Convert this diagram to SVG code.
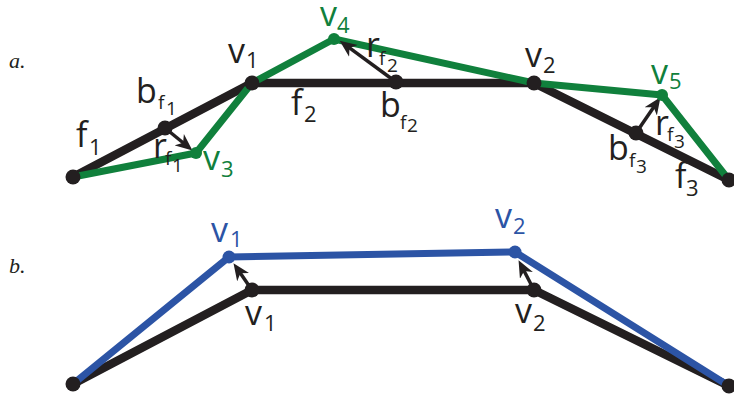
<svg xmlns="http://www.w3.org/2000/svg" width="734" height="397" viewBox="0 0 734 397">
<style>
.bk{fill:none;stroke:#231f20;stroke-width:8.5;stroke-linejoin:round}
.gr{fill:none;stroke:#10803c;stroke-width:7;stroke-linejoin:round}
.bl{fill:none;stroke:#2c54a5;stroke-width:7;stroke-linejoin:round}
.ar{fill:none;stroke:#231f20;stroke-width:3.5}
.dk{fill:#231f20}
.dg{fill:#10803c}
.db{fill:#2c54a5}
text{font-family:"Open Sans","DejaVu Sans",sans-serif}
.m{font-size:34px}
.s{font-size:22px}
.ss{font-size:19px}
.tk{fill:#231f20}
.tg{fill:#10803c}
.tb{fill:#2c54a5}
.it{font-family:"Liberation Serif",serif;font-style:italic;font-size:22px;fill:#231f20}
</style>
<defs>
<marker id="ah" markerUnits="userSpaceOnUse" markerWidth="17" markerHeight="15" viewBox="0 0 14 12" refX="5" refY="6" orient="auto">
<path d="M0,0 L14,6 L0,12 L4,6 Z" fill="#231f20"/>
</marker>
</defs>
<text class="it" x="9" y="68">a.</text>
<text class="it" x="9" y="273">b.</text>
<g id="connectors">
<polyline class="bk" points="73,177 252,83 534,83 729,180"/>
<polyline class="gr" points="73,177 196,153 252,83 334,39 534,83 662,95 729,180"/>
<line class="ar" x1="165" y1="128" x2="184" y2="143.5" marker-end="url(#ah)"/>
<line class="ar" x1="396" y1="82" x2="348.5" y2="47.2" marker-end="url(#ah)"/>
<line class="ar" x1="636" y1="133" x2="654.3" y2="106.3" marker-end="url(#ah)"/>
<polyline class="bk" points="73,384 252,290 534,290 729,386"/>
<polyline class="bl" points="73,384 229,257 515,252 729,386"/>
<line class="ar" x1="252" y1="290" x2="239.7" y2="272.2" marker-end="url(#ah)"/>
<line class="ar" x1="534" y1="290" x2="523.6" y2="270" marker-end="url(#ah)"/>
</g>
<g id="p0"><circle class="dk" cx="73" cy="177" r="7.5"/></g>
<g id="bf1"><circle class="dk" cx="165" cy="128" r="7.5"/>
<text class="tk"><tspan class="m" x="136" y="103">b</tspan><tspan class="ss" x="158" y="109">f</tspan><tspan class="ss" x="166" y="115">1</tspan></text></g>
<g id="f1"><text class="tk"><tspan class="m" x="76" y="147">f</tspan><tspan class="s" x="89" y="155">1</tspan></text></g>
<g id="rf1"><text class="tk"><tspan class="m" x="153" y="158">r</tspan><tspan class="ss" x="165" y="165">f</tspan><tspan class="ss" x="172" y="172">1</tspan></text></g>
<g id="v3"><circle class="dg" cx="196" cy="153" r="6"/>
<text class="tg"><tspan class="m" x="203" y="170">v</tspan><tspan class="s" x="221" y="177">3</tspan></text></g>
<g id="v1"><circle class="dk" cx="252" cy="83" r="7.5"/>
<text class="tk"><tspan class="m" x="228" y="63">v</tspan><tspan class="s" x="246" y="68">1</tspan></text></g>
<g id="v4"><circle class="dg" cx="334" cy="39" r="6"/>
<text class="tg"><tspan class="m" x="320" y="26">v</tspan><tspan class="s" x="337" y="33">4</tspan></text></g>
<g id="f2"><text class="tk"><tspan class="m" x="291" y="115">f</tspan><tspan class="s" x="304" y="122">2</tspan></text></g>
<g id="rf2"><text class="tk"><tspan class="m" x="366" y="57">r</tspan><tspan class="ss" x="379" y="65">f</tspan><tspan class="ss" x="387" y="72">2</tspan></text></g>
<g id="bf2"><circle class="dk" cx="396" cy="82" r="7.5"/>
<text class="tk"><tspan class="m" x="380" y="117">b</tspan><tspan class="ss" x="400" y="129">f</tspan><tspan class="ss" x="407" y="132">2</tspan></text></g>
<g id="v2"><circle class="dk" cx="534" cy="83" r="7.5"/>
<text class="tk"><tspan class="m" x="525" y="67">v</tspan><tspan class="s" x="543" y="73">2</tspan></text></g>
<g id="v5"><circle class="dg" cx="662" cy="95" r="6"/>
<text class="tg"><tspan class="m" x="651" y="84">v</tspan><tspan class="s" x="669" y="89">5</tspan></text></g>
<g id="rf3"><text class="tk"><tspan class="m" x="655" y="135">r</tspan><tspan class="ss" x="667" y="141">f</tspan><tspan class="ss" x="674" y="148">3</tspan></text></g>
<g id="bf3"><circle class="dk" cx="636" cy="133" r="7.5"/>
<text class="tk"><tspan class="m" x="608" y="160">b</tspan><tspan class="ss" x="629" y="167">f</tspan><tspan class="ss" x="636" y="173">3</tspan></text></g>
<g id="f3"><text class="tk"><tspan class="m" x="675" y="188">f</tspan><tspan class="s" x="686" y="196">3</tspan></text></g>
<g id="p1"><circle class="dk" cx="729" cy="180" r="7.5"/></g>
<g id="q0"><circle class="dk" cx="73" cy="384" r="7.5"/></g>
<g id="bv1"><circle class="db" cx="229" cy="257" r="6.5"/>
<text class="tb"><tspan class="m" x="211" y="242">v</tspan><tspan class="s" x="230" y="247">1</tspan></text></g>
<g id="kv1"><circle class="dk" cx="252" cy="290" r="7.5"/>
<text class="tk"><tspan class="m" x="245" y="325">v</tspan><tspan class="s" x="264" y="331">1</tspan></text></g>
<g id="bv2"><circle class="db" cx="515" cy="252" r="6.5"/>
<text class="tb"><tspan class="m" x="495" y="228">v</tspan><tspan class="s" x="513" y="234">2</tspan></text></g>
<g id="kv2"><circle class="dk" cx="534" cy="290" r="7.5"/>
<text class="tk"><tspan class="m" x="515" y="323">v</tspan><tspan class="s" x="533" y="331">2</tspan></text></g>
<g id="q1"><circle class="dk" cx="729" cy="386" r="7.5"/></g>
</svg>
